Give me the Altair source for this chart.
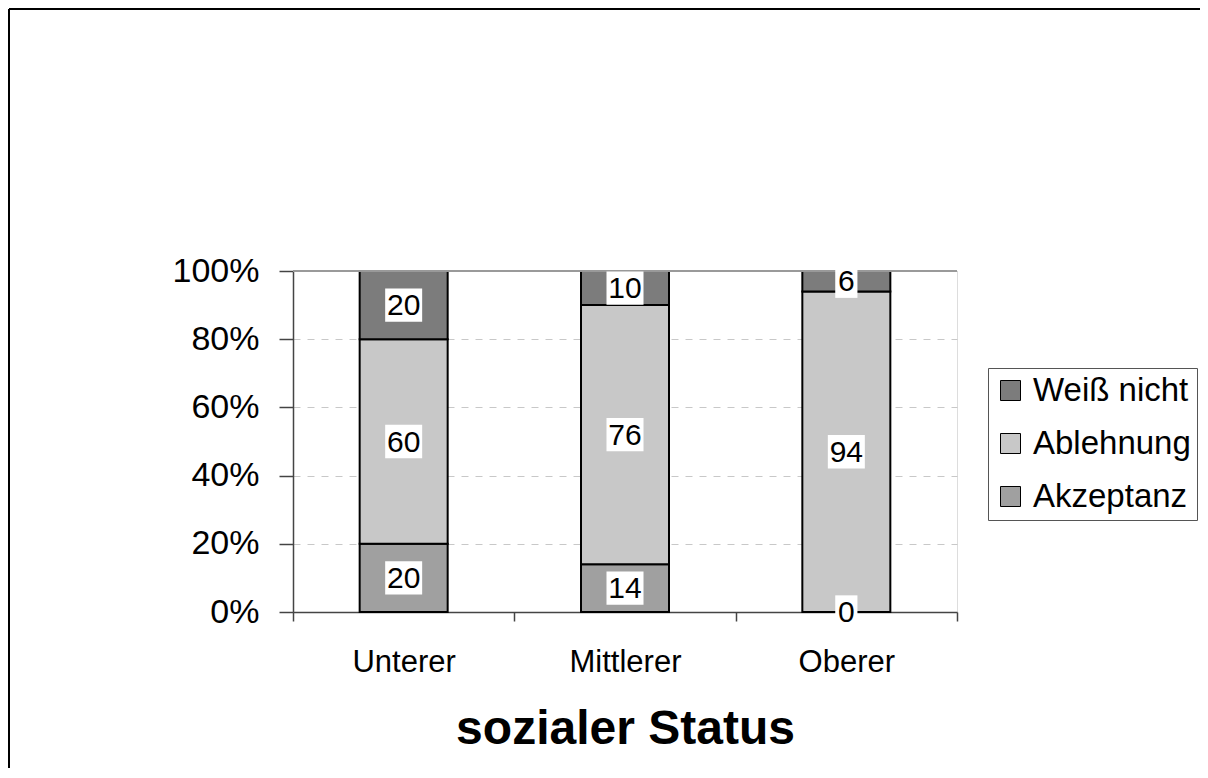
import altair as alt
import pandas as pd

categories = ["Unterer", "Mittlerer", "Oberer"]
akzeptanz = [20, 14, 0]
ablehnung = [60, 76, 94]
weiss_nicht = [20, 10, 6]

series = ["Akzeptanz", "Ablehnung", "Weiß nicht"]
legend_order = ["Weiß nicht", "Ablehnung", "Akzeptanz"]
colors = ["#7c7c7c", "#c8c8c8", "#a0a0a0"]

rows = []
for i, c in enumerate(categories):
    for j, (s, vals) in enumerate(zip(series, [akzeptanz, ablehnung, weiss_nicht])):
        rows.append({"cat": c, "series": s, "value": vals[i], "order": j,
                     "digits": "d%d" % len(str(vals[i]))})
df = pd.DataFrame(rows)

W, H = 664, 341
PAD_L, PAD_T = 285, 263
TOTAL_W, TOTAL_H = 1192, 760
FONT = "Liberation Sans"

base = alt.Chart(df).transform_stack(
    stack="value", groupby=["cat"], as_=["y0", "y1"], offset="normalize",
    sort=[alt.SortField("order")]
).transform_calculate(mid="(datum.y0 + datum.y1) / 2")

xscale = alt.Scale(paddingInner=0, paddingOuter=0)

xenc = alt.X("cat:N", sort=categories, scale=xscale,
             axis=alt.Axis(title="sozialer Status", labelAngle=0, labelFontSize=31,
                           labelFont=FONT, labelColor="black",
                           labelPadding=26, tickSize=9, tickBand="extent",
                           tickColor="#444444", domainColor="#444444",
                           tickWidth=1.5, domainWidth=1.5,
                           titleFontSize=48, titleFont=FONT,
                           titleFontWeight="bold", titleColor="black",
                           titlePadding=28))

bars = base.mark_bar(stroke="black", strokeWidth=2, width=88).encode(
    x=xenc,
    y=alt.Y("y0:Q", scale=alt.Scale(domain=[0, 1]),
            axis=alt.Axis(format="%", values=[0, 0.2, 0.4, 0.6, 0.8, 1.0],
                          title=None, labelFontSize=34, labelFont=FONT,
                          labelColor="black", tickSize=14, labelPadding=20,
                          tickColor="#444444", domainColor="#444444",
                          tickWidth=1.5, domainWidth=1.5,
                          gridColor="#c8c8c8", gridDash=[7, 7], gridWidth=1)),
    y2="y1:Q",
    color=alt.Color("series:N", scale=alt.Scale(domain=legend_order, range=colors),
                    legend=alt.Legend(title=None, orient="none", legendX=695, legendY=97,
                                      symbolType="square", symbolSize=400,
                                      symbolStrokeColor="black", symbolStrokeWidth=1,
                                      labelFontSize=33, labelFont=FONT,
                                      labelColor="black", labelOffset=6,
                                      rowPadding=19, padding=6,
                                      strokeColor="#555555", fillColor="white")),
)

box_w2 = "M-1,-0.9H1V0.9H-1Z"
box_w1 = "M-0.6,-0.9H0.6V0.9H-0.6Z"

label_bg = base.mark_point(filled=True, fill="white", opacity=1, strokeWidth=0).encode(
    x=alt.X("cat:N", sort=categories, scale=xscale),
    y=alt.Y("mid:Q"),
    shape=alt.Shape("digits:N", scale=alt.Scale(domain=["d1", "d2"], range=[box_w1, box_w2]),
                    legend=None),
    size=alt.value(1369),
)

labels = base.mark_text(fontSize=30, font=FONT, color="black",
                        baseline="middle", dy=1).encode(
    x=alt.X("cat:N", sort=categories, scale=xscale),
    y=alt.Y("mid:Q"),
    text="value:Q",
)

top_line = alt.Chart(df).mark_rule(color="#999999", strokeWidth=1.2).encode(
    y=alt.datum(1)
)

border_top = alt.Chart(df).mark_rule(color="black", strokeWidth=2).encode(
    x=alt.value(-PAD_L + 1), x2=alt.value(1300), y=alt.value(-PAD_T + 1)
)
border_left = alt.Chart(df).mark_rule(color="black", strokeWidth=2).encode(
    x=alt.value(-PAD_L + 1), y=alt.value(-PAD_T + 1), y2=alt.value(900)
)

chart = alt.layer(bars, top_line, label_bg, labels, border_top, border_left).properties(
    width=W, height=H,
    autosize=alt.AutoSizeParams(type="none"),
    padding={"left": PAD_L, "top": PAD_T, "right": TOTAL_W - PAD_L - W,
             "bottom": TOTAL_H - PAD_T - H},
).configure_view(stroke=None).configure(background="white")

chart.save("out.html", embed_options={"renderer": "svg", "actions": False})
